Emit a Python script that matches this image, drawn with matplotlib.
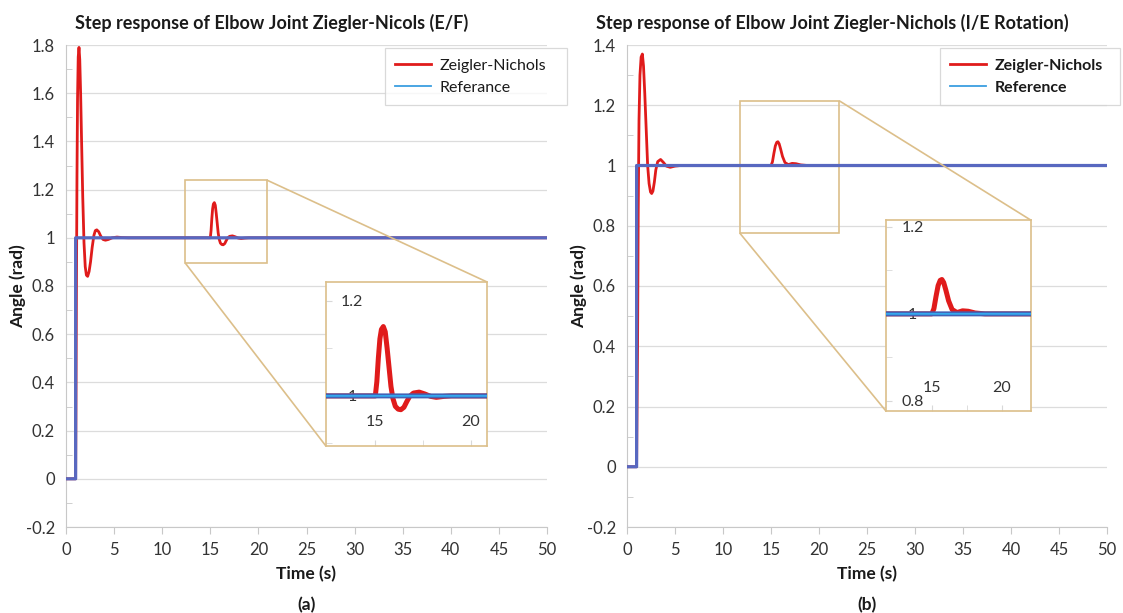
import matplotlib
matplotlib.use("Agg")
import matplotlib.pyplot as plt
from matplotlib.ticker import FuncFormatter, MultipleLocator
from mpl_toolkits.axes_grid1.inset_locator import mark_inset

plt.rcParams['font.family'] = ['Lato', 'DejaVu Sans']

# Reference step (both joints)
t_ref = [0, 1.0, 1.0, 50]
ref = [0, 0, 1, 1]

# Elbow E/F, Ziegler-Nichols response
t_ef = [0, 1.0, 1.03, 1.08, 1.14, 1.2, 1.27, 1.35, 1.43, 1.52, 1.62, 1.74, 1.87,
        2.0, 2.12, 2.25, 2.4, 2.55, 2.72, 2.9, 3.05, 3.2, 3.4, 3.6, 3.85, 4.1,
        4.4, 4.8, 5.3, 5.8, 6.5,
        15.0, 15.08, 15.16, 15.24, 15.32, 15.42, 15.52, 15.62, 15.72, 15.82,
        15.92, 16.05, 16.2, 16.34, 16.5, 16.65, 16.8, 17.0, 17.3, 17.6, 17.9,
        18.2, 18.6, 19.0, 50]
zn_ef = [0, 0, 0.25, 0.75, 1.25, 1.58, 1.75, 1.79, 1.74, 1.6, 1.4, 1.17, 0.98,
         0.88, 0.845, 0.84, 0.86, 0.9, 0.96, 1.01, 1.03, 1.033, 1.025, 1.008,
         0.993, 0.99, 0.993, 1.0, 1.003, 1.001, 1.0,
         1.0, 1.03, 1.08, 1.12, 1.14, 1.146, 1.135, 1.1, 1.06, 1.02,
         0.995, 0.978, 0.972, 0.971, 0.976, 0.988, 0.999, 1.006, 1.008, 1.004,
         0.999, 0.997, 0.999, 1.0, 1.0]

# Elbow I/E rotation, Ziegler-Nichols response
t_ie = [0, 1.0, 1.1, 1.17, 1.25, 1.35, 1.47, 1.6, 1.72, 1.85, 2.0, 2.15, 2.3,
        2.45, 2.57, 2.7, 2.85, 3.0, 3.2, 3.5, 3.8, 4.1, 4.5, 5.0, 5.6,
        15.0, 15.15, 15.3, 15.45, 15.6, 15.72, 15.85, 16.0, 16.2, 16.45, 16.8,
        17.2, 17.6, 18.1, 18.8, 50]
zn_ie = [0, 0, 0.4, 0.85, 1.15, 1.3, 1.36, 1.37, 1.33, 1.24, 1.12, 1.0, 0.94,
         0.912, 0.907, 0.915, 0.945, 0.985, 1.013, 1.02, 1.01, 0.998, 0.994,
         0.998, 1.0,
         1.0, 1.012, 1.04, 1.065, 1.077, 1.079, 1.072, 1.055, 1.03, 1.01, 1.003,
         1.007, 1.006, 1.002, 1.0, 1.0]

panels = [
    dict(t=t_ef, zn=zn_ef, ylim=(-0.2, 1.8),
         title="Step response of Elbow Joint Ziegler-Nicols (E/F)",
         ref_label="Referance", tag="(a)",
         ax_px=(66, 547), title_x=75, ylabel_x=18, leg_x=385, leg_w=182,
         leg_bold=False,
         ins_xlim=(12.4, 20.85), ins_ylim=(0.895, 1.24), ins_yt=[1.0, 1.2],
         ins_bounds=[27.0, 0.137, 16.75, 0.68]),
    dict(t=t_ie, zn=zn_ie, ylim=(-0.2, 1.4),
         title="Step response of Elbow Joint Ziegler-Nichols (I/E Rotation)",
         ref_label="Reference", tag="(b)",
         ax_px=(627, 1107), title_x=596, ylabel_x=579, leg_x=940, leg_w=180,
         leg_bold=True,
         ins_xlim=(11.74, 22.1), ins_ylim=(0.776, 1.215), ins_yt=[0.8, 1.0, 1.2],
         ins_bounds=[27.0, 0.184, 15.1, 0.634]),
]

W, H = 1123, 613
fig = plt.figure(figsize=(W / 100, H / 100), dpi=100)
fmt = FuncFormatter(lambda v, p: "{:g}".format(round(v, 2)))

red = "#e01b1b"
blue_dark = "#5868c0"
blue_light = "#3a9ee0"
tan = "#dcbf8a"
grey = "#c8c8c8"

for p in panels:
    x0, x1 = p["ax_px"]
    ax = fig.add_axes([x0 / W, (H - 527) / H, (x1 - x0) / W, 482 / H])
    ax.plot(p["t"], p["zn"], color=red, lw=2.0, label="Zeigler-Nichols", zorder=3,
            snap=False)
    ax.plot(t_ref, ref, color=blue_dark, lw=2.3, zorder=4, snap=False,
            label=p["ref_label"])

    ax.set_xlim(0, 50)
    ax.set_ylim(*p["ylim"])
    ax.xaxis.set_major_locator(MultipleLocator(5))
    ax.yaxis.set_major_locator(MultipleLocator(0.2))
    ax.yaxis.set_minor_locator(MultipleLocator(0.1))
    ax.yaxis.set_major_formatter(fmt)
    ax.grid(axis="y", color="#dcdcdc", lw=0.9)
    ax.set_axisbelow(True)
    for s in ["top", "right"]:
        ax.spines[s].set_visible(False)
    for s in ["left", "bottom"]:
        ax.spines[s].set_color(grey)
    ax.tick_params(axis="x", direction="out", length=5, color=grey, pad=6,
                   labelsize=12, labelcolor="#333333")
    ax.tick_params(axis="y", which="major", length=0, pad=8, labelsize=12,
                   labelcolor="#333333")
    ax.tick_params(axis="y", which="minor", direction="in", length=4, color=grey)

    fig.text(p["title_x"] / W, 1 - 23 / H, p["title"], fontsize=13,
             fontweight="bold", ha="left", va="center", color="#1a1a1a")
    fig.text((x0 + x1) / 2 / W, 1 - 574 / H, "Time (s)", fontsize=12.5,
             fontweight="bold", ha="center", va="center", color="#1a1a1a")
    fig.text(p["ylabel_x"] / W, 1 - 286 / H, "Angle (rad)", fontsize=12.5,
             fontweight="bold", ha="center", va="center", rotation=90,
             color="#1a1a1a")
    fig.text((x0 + x1) / 2 / W, 1 - 605 / H, p["tag"], fontsize=12.5,
             fontweight="bold", ha="center", va="center", color="#1a1a1a")

    leg = ax.legend(loc="upper left", mode="expand",
                    bbox_to_anchor=(p["leg_x"] / W, 1 - 48 / H - 0.01, p["leg_w"] / W, 0.01),
                    bbox_transform=fig.transFigure, fontsize=11.5, frameon=True,
                    fancybox=False, edgecolor="#d0d0d0", handlelength=2.2,
                    handletextpad=0.55, borderpad=0.65, labelspacing=0.5,
                    borderaxespad=0)
    leg.get_frame().set_linewidth(0.9)
    leg.legend_handles[1].set_color(blue_light)
    leg.legend_handles[1].set_linewidth(1.3)
    for txt in leg.get_texts():
        txt.set_color("#1a1a1a")
        if p["leg_bold"]:
            txt.set_fontweight("bold")

    # zoomed inset
    axins = ax.inset_axes(p["ins_bounds"], transform=ax.transData)
    axins.plot(p["t"], p["zn"], color=red, lw=3.6, solid_capstyle="round", zorder=3,
               snap=False)
    axins.plot(t_ref, ref, color="#4362b5", lw=3.6, zorder=4, snap=False)
    axins.plot(t_ref, ref, color="#33a9ee", lw=1.3, zorder=4, snap=False)
    axins.set_xlim(*p["ins_xlim"])
    axins.set_ylim(*p["ins_ylim"])
    axins.set_xticks([15, 20])
    axins.set_xticks([17.5], minor=True)
    axins.set_yticks(p["ins_yt"])
    axins.yaxis.set_minor_locator(MultipleLocator(0.1))
    axins.yaxis.set_major_formatter(fmt)
    axins.tick_params(axis="x", which="both", direction="in", length=4, color="#d8d8d8",
                      pad=-22, labelsize=11.5, labelcolor="#333333")
    axins.tick_params(axis="y", which="both", direction="in", length=4, color="#d8d8d8",
                      pad=-19, labelsize=11.5, labelcolor="#333333")
    for lbl in axins.get_yticklabels():
        lbl.set_horizontalalignment("center")
    for s in axins.spines.values():
        s.set_color(tan)
        s.set_linewidth(1.2)
    mark_inset(ax, axins, loc1=1, loc2=3, fc="none", ec=tan, lw=1.2)

fig.savefig("out.png", dpi=100)
